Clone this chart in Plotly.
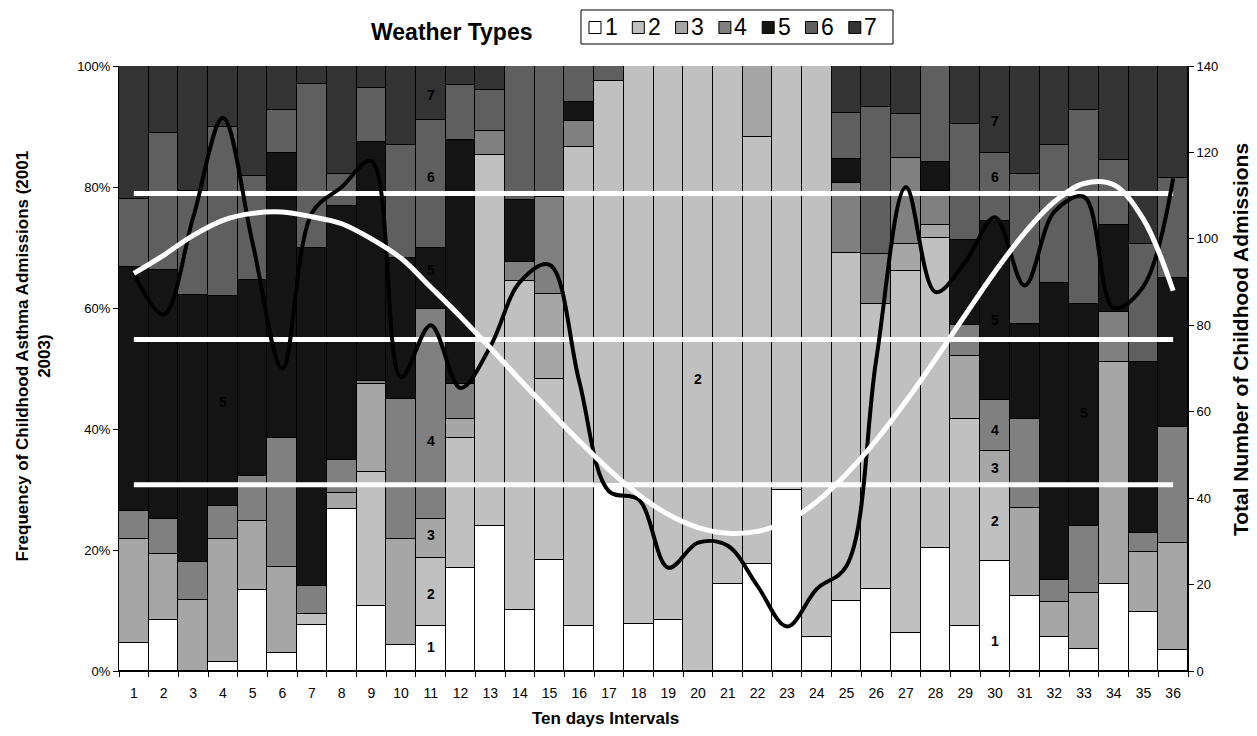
import plotly.graph_objects as go

# ---------------- data ----------------
intervals = [str(i) for i in range(1, 37)]
type_names = ["1", "2", "3", "4", "5", "6", "7"]
type_colors = ["#FFFFFF", "#C0C0C0", "#A6A6A6", "#808080", "#141414", "#5F5F5F", "#333333"]

# share (%) of each weather type per ten-day interval
wt1 = [4.6, 8.4, 0.0, 1.5, 13.4, 2.9, 7.6, 26.7, 10.7, 4.3, 7.4, 17.0, 24.0, 10.1, 18.3, 7.4, 31.0, 7.7,
       8.4, 0.0, 14.3, 17.7, 30.0, 5.6, 11.6, 13.5, 6.2, 20.4, 7.4, 18.2, 12.4, 5.7, 3.7, 14.3, 9.8, 3.5]
wt2 = [0.0, 0.0, 0.0, 0.0, 0.0, 0.0, 1.8, 0.0, 22.2, 0.0, 11.3, 21.5, 61.3, 54.3, 30.0, 79.2, 66.6, 92.3,
       91.6, 100.0, 85.7, 70.6, 70.0, 94.4, 57.5, 47.2, 59.9, 51.2, 34.2, 12.7, 0.0, 0.0, 0.0, 0.0, 0.0, 0.0]
wt3 = [17.3, 10.9, 11.7, 20.4, 11.4, 14.3, 0.0, 2.8, 14.5, 17.5, 6.4, 3.1, 0.0, 0.0, 14.0, 0.0, 0.0, 0.0,
       0.0, 0.0, 0.0, 11.7, 0.0, 0.0, 0.0, 0.0, 4.4, 2.2, 10.4, 5.4, 14.6, 5.7, 9.2, 36.8, 9.9, 17.6]
wt4 = [4.5, 5.9, 6.3, 5.4, 7.5, 21.3, 4.6, 5.3, 0.6, 23.1, 34.8, 5.9, 3.9, 3.2, 16.0, 4.3, 0.0, 0.0,
       0.0, 0.0, 0.0, 0.0, 0.0, 0.0, 11.6, 8.2, 14.3, 5.6, 5.2, 8.5, 14.7, 3.6, 11.1, 8.3, 3.1, 19.3]
wt5 = [40.3, 41.0, 44.2, 34.7, 32.4, 47.2, 55.9, 42.1, 39.5, 23.3, 10.0, 40.2, 0.0, 10.2, 0.0, 3.1, 0.0, 0.0,
       0.0, 0.0, 0.0, 0.0, 0.0, 0.0, 3.9, 0.0, 0.0, 4.7, 14.1, 29.6, 15.7, 49.1, 36.6, 14.4, 28.3, 24.6]
wt6 = [11.4, 22.8, 17.2, 27.9, 17.2, 7.1, 27.2, 5.2, 8.9, 18.7, 21.2, 9.1, 6.8, 22.2, 21.7, 6.0, 2.4, 0.0,
       0.0, 0.0, 0.0, 0.0, 0.0, 0.0, 7.7, 24.3, 7.2, 15.9, 19.1, 11.3, 24.7, 22.8, 32.2, 10.6, 19.5, 16.5]
wt7 = [21.9, 11.0, 20.6, 10.1, 18.1, 7.2, 2.9, 17.9, 3.6, 13.1, 8.9, 3.2, 4.0, 0.0, 0.0, 0.0, 0.0, 0.0,
       0.0, 0.0, 0.0, 0.0, 0.0, 0.0, 7.7, 6.8, 8.0, 0.0, 9.6, 14.3, 17.9, 13.1, 7.2, 15.6, 29.4, 18.5]
weather_shares = [wt1, wt2, wt3, wt4, wt5, wt6, wt7]

# total number of childhood admissions (right axis)
total_admissions = [92, 82.5, 105, 128, 99, 70, 106, 112, 118, 68, 80, 65.5, 75, 90, 94, 67, 41.6, 39.7,
                    23.9, 29.7, 29, 19.7, 10.3, 19, 24.3, 72, 112, 87.7, 94.6, 105, 89.2, 106.3, 109.7, 84,
                    89, 114]
# trend of admissions (white curve)
trend_admissions = [92, 96.2, 100.8, 104.3, 105.9, 106.2, 105.1, 103.5, 100, 95.5, 88.8, 82, 74.8, 67.4,
                    60.2, 53.2, 46.6, 40.8, 36.2, 33.2, 31.9, 32.3, 34.6, 39.2, 45.6, 53.4, 62.4, 72.2,
                    82.4, 92.4, 101.4, 108.6, 112.8, 112.5, 104.5, 88]
# mean + SD, mean, mean - SD
reference_levels = [110.5, 76.7, 43.1]

# in-bar labels
label_bar = ["11"] * 7 + ["30"] * 7 + ["4", "20", "33"]
label_text = ["1", "2", "3", "4", "5", "6", "7"] * 2 + ["5", "2", "5"]
label_pct = [3.9, 12.7, 22.4, 38.0, 66.2, 81.7, 95.2, 5.0, 24.8, 33.6, 39.9, 58.0, 81.7, 90.9, 44.4, 48.3, 42.7]

FONT = "Liberation Sans, Arial, sans-serif"

# ---------------- layout geometry (screen pixels) ----------------
PAGE_OFFSET = 8            # default body margin of the html page
FIG_W, FIG_H = 1257 - PAGE_OFFSET, 736 - PAGE_OFFSET
plot_l, plot_r, plot_t, plot_b = 119, 1188, 66, 671   # target plot box on screen
W = plot_r - plot_l
H = plot_b - plot_t


def px_x(px):
    return (px - plot_l) / W


def px_y(py):
    return (plot_b - py) / H


fig = go.Figure()
for name, color, vals in zip(type_names, type_colors, weather_shares):
    fig.add_trace(go.Bar(x=intervals, y=vals, name=name,
                         marker=dict(color=color, line=dict(color="black", width=1)),
                         showlegend=False, yaxis="y"))

for lvl in reference_levels:
    fig.add_trace(go.Scatter(x=[intervals[0], intervals[-1]], y=[lvl, lvl], mode="lines",
                             line=dict(color="white", width=5), yaxis="y2", showlegend=False))

fig.add_trace(go.Scatter(x=intervals, y=total_admissions, mode="lines",
                         line=dict(color="black", width=4, shape="spline", smoothing=1.0),
                         yaxis="y2", showlegend=False))
fig.add_trace(go.Scatter(x=intervals, y=trend_admissions, mode="lines",
                         line=dict(color="white", width=5, shape="spline", smoothing=1.0),
                         yaxis="y2", showlegend=False))

annotations = []
for b, t, p in zip(label_bar, label_text, label_pct):
    annotations.append(dict(x=intervals.index(b), y=p, xref="x", yref="y", text="<b>%s</b>" % t,
                            showarrow=False, xanchor="center", yanchor="middle",
                            font=dict(family=FONT, size=14, color="black")))

# legend (drawn manually to match the compact original)
annotations.append(dict(x=px_x(451), y=px_y(32), xref="paper", yref="paper", text="<b>Weather Types</b>",
                        xanchor="center", yanchor="middle", showarrow=False,
                        font=dict(family=FONT, size=23, color="black")))
shapes = [dict(type="rect", xref="paper", yref="paper", x0=px_x(581), x1=px_x(893), y0=px_y(44), y1=px_y(10),
               line=dict(color="black", width=1), fillcolor="white")]
for i, (name, color) in enumerate(zip(type_names, type_colors)):
    sx = 589 + i * 43.3
    shapes.append(dict(type="rect", xref="paper", yref="paper", x0=px_x(sx), x1=px_x(sx + 12),
                       y0=px_y(33.5), y1=px_y(21.5), line=dict(color="black", width=1), fillcolor=color))
    annotations.append(dict(x=px_x(sx + 13.5), y=px_y(27.5), xref="paper", yref="paper", text=name,
                            xanchor="left", yanchor="middle", showarrow=False,
                            font=dict(family=FONT, size=23, color="black")))

# axis titles
annotations.append(dict(x=px_x(605), y=px_y(718), xref="paper", yref="paper",
                        text="<b>Ten days Intervals</b>", xanchor="center", yanchor="middle",
                        showarrow=False, font=dict(family=FONT, size=17, color="black")))
annotations.append(dict(x=px_x(33), y=0.52, xref="paper", yref="paper",
                        text="<b>Frequency of Childhood Asthma Admissions (2001<br>2003)</b>",
                        textangle=-90, xanchor="center", yanchor="middle", showarrow=False,
                        font=dict(family=FONT, size=17, color="black")))
annotations.append(dict(x=px_x(1240), y=0.547, xref="paper", yref="paper",
                        text="<b>Total Number of Childhood Admissions</b>",
                        textangle=-90, xanchor="center", yanchor="middle", showarrow=False,
                        font=dict(family=FONT, size=21, color="black")))

fig.update_layout(
    width=FIG_W, height=FIG_H,
    margin=dict(l=plot_l - PAGE_OFFSET, r=FIG_W - (plot_r - PAGE_OFFSET),
                t=plot_t - PAGE_OFFSET, b=FIG_H - (plot_b - PAGE_OFFSET)),
    paper_bgcolor="white", plot_bgcolor="white",
    barmode="stack", bargap=0,
    font=dict(family=FONT, size=13, color="black"),
    xaxis=dict(type="category", tickson="boundaries", ticks="outside", ticklen=5, tickcolor="black",
               showline=True, linecolor="black", linewidth=1, showgrid=False,
               ticklabelstandoff=9, tickfont=dict(size=14, color="black")),
    yaxis=dict(range=[0, 100], dtick=20, ticksuffix="%", ticks="outside", ticklen=5, tickcolor="black",
               showline=True, linecolor="black", linewidth=1, showgrid=False, zeroline=False,
               tickfont=dict(size=13, color="black")),
    yaxis2=dict(range=[0, 140], dtick=20, overlaying="y", side="right", ticks="outside", ticklen=5,
                tickcolor="black", showline=True, linecolor="black", linewidth=1, showgrid=False,
                zeroline=False, tickfont=dict(size=13, color="black")),
    annotations=annotations, shapes=shapes,
)

fig.write_html("out.html")
